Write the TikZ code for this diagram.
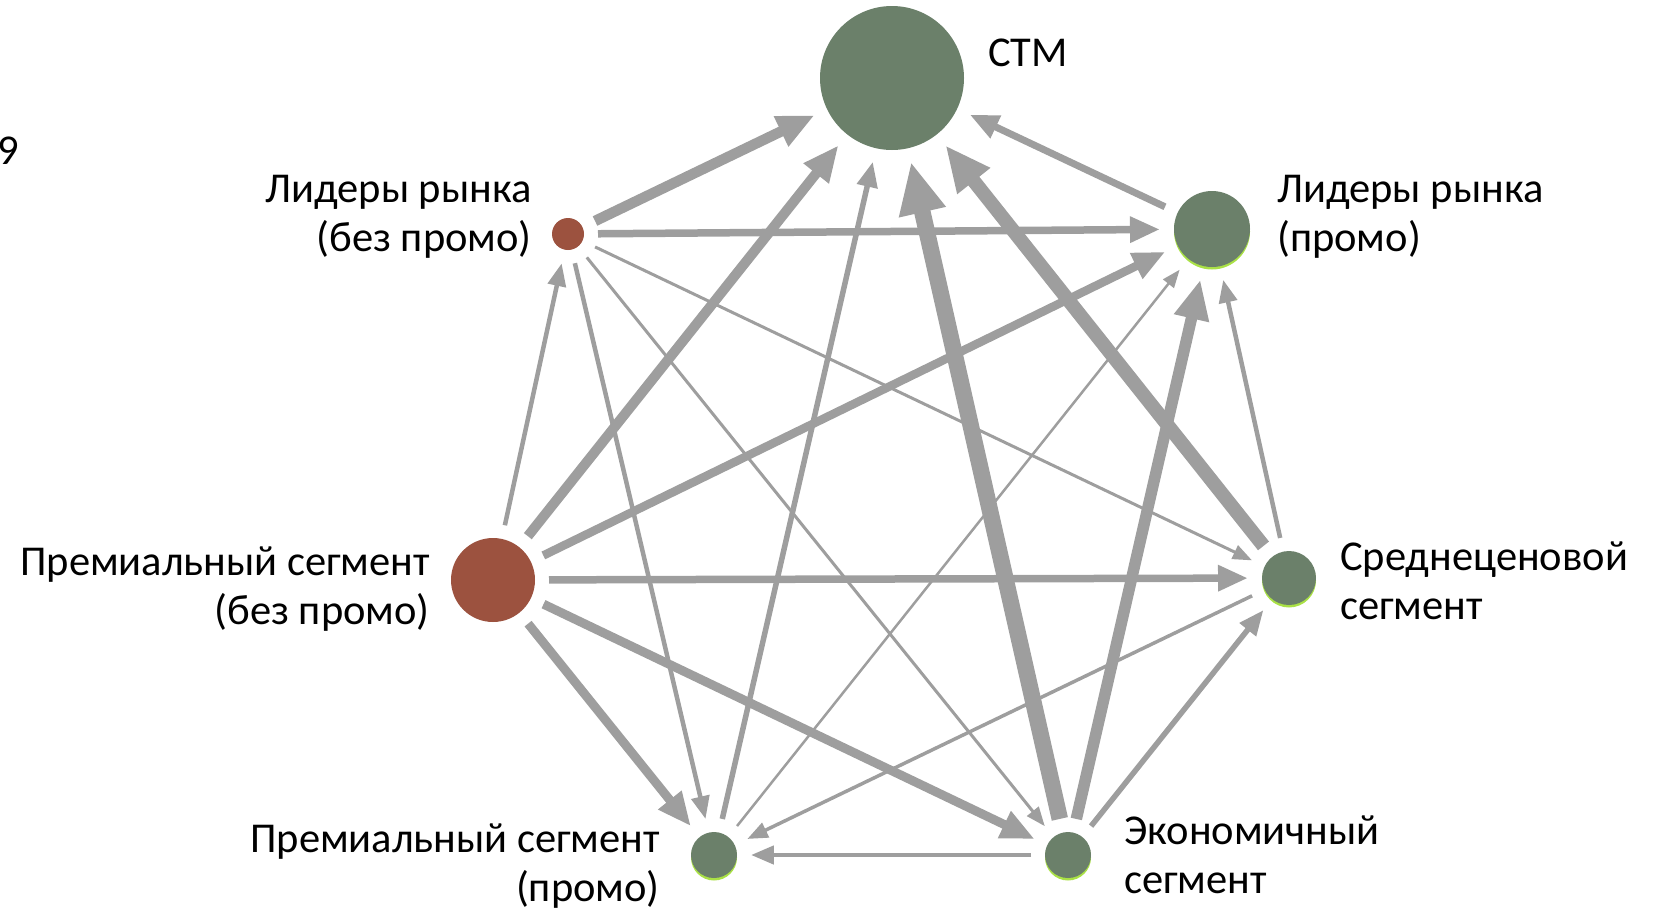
\documentclass[tikz,border=0pt]{standalone}
\usepackage{fontspec}
\setmainfont{Carlito}
\usetikzlibrary{arrows.meta}
\definecolor{nodegreen}{RGB}{107,128,106}
\definecolor{nodered}{RGB}{156,82,63}
\definecolor{edgegray}{RGB}{158,158,158}
\definecolor{glowgreen}{RGB}{170,225,70}
\begin{document}
\begin{tikzpicture}[x=1pt,y=-1pt,
  vert/.style={circle, inner sep=0pt, outer sep=14pt, minimum size=#1},
  gnode/.style={vert=#1, fill=nodegreen},
  rnode/.style={vert=#1, fill=nodered},
  lbl/.style={font=\fontsize{42.5}{49}\selectfont, inner sep=0pt},
  edge/.style={draw=edgegray, line width=#1, -{Triangle[length=12pt 2.4, width=8pt 2.2]}},
]
\useasboundingbox (0,0) rectangle (1657,911);
% glow under green nodes
\fill[glowgreen] (1212,231.5) circle (38);
\fill[glowgreen] (1289,580.5) circle (27);
\fill[glowgreen] (714,857.5) circle (23);
\fill[glowgreen] (1068,857.5) circle (23);
% nodes
\node[gnode=144] (stm) at (892,78) {};
\node[rnode=32] (lb) at (568,234) {};
\node[gnode=76] (lp) at (1212,229) {};
\node[rnode=84] (pb) at (493,580) {};
\node[gnode=54] (sr) at (1289,578) {};
\node[gnode=46] (pp) at (714,855) {};
\node[gnode=46] (ek) at (1068,855) {};
% labels (base anchor = last line)
\node[lbl, anchor=base west] (l0) at (-3,164) {9};
\node[lbl, anchor=base west] (lstm) at (988,66) {СТМ};
\node[lbl, anchor=base east, align=right] (llb) at (532,251) {Лидеры рынка\\(без промо)};
\node[lbl, anchor=base west, align=left] (llp) at (1277,251) {Лидеры рынка\\(промо)};
\node[lbl, anchor=base east, align=right] (lpb) at (430,624) {Премиальный сегмент\\(без промо)};
\node[lbl, anchor=base west, align=left] (lsr) at (1340,619) {Среднеценовой\\сегмент};
\node[lbl, anchor=base east, align=right] (lpp) at (660,901) {Премиальный сегмент\\(промо)};
\node[lbl, anchor=base west, align=left] (lek) at (1124,893) {Экономичный\\сегмент};
% edges
\draw[edge=2.5] (pp) -- (lp);
\draw[edge=3] (lb) -- (sr);
\draw[edge=3] (lb) -- (ek);
\draw[edge=3.5] (sr) -- (pp);
\draw[edge=4.5] (lb) -- (pp);
\draw[edge=4.5] (pb) -- (lb);
\draw[edge=4.5] (sr) -- (lp);
\draw[edge=4.5] (ek) -- (pp);
\draw[edge=5.5] (pp) -- (stm);
\draw[edge=5.5] (ek) -- (sr);
\draw[edge=7] (lp) -- (stm);
\draw[edge=7.5] (lb) -- (lp);
\draw[edge=7.5] (pb) -- (sr);
\draw[edge=8.5] (pb) -- (lp);
\draw[edge=9] (pb) -- (ek);
\draw[edge=9] (pb) -- (pp);
\draw[edge=10] (pb) -- (stm);
\draw[edge=10.5] (lb) -- (stm);
\draw[edge=11.5] (ek) -- (lp);
\draw[edge=14] (sr) -- (stm);
\draw[edge=16.5] (ek) -- (stm);
\end{tikzpicture}
\end{document}
